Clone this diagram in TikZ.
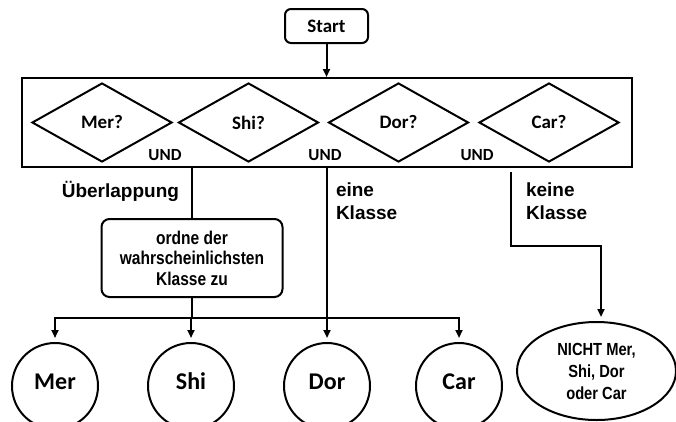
\documentclass[tikz,border=0pt]{standalone}
\usepackage{fontspec}
\newfontfamily\calfont{Carlito}
\newfontfamily\arialfont{Liberation Sans}
\newfontfamily\narrowfont{Liberation Sans}[FakeStretch=0.84]
\usetikzlibrary{shapes.geometric,arrows.meta}

\begin{document}
\begin{tikzpicture}[x=1pt,y=-1pt,
  line width=2pt,
  box/.style={draw, rounded corners=6pt, align=center, inner sep=0pt},
  test/.style={draw, diamond, minimum width=140pt, minimum height=79pt, inner sep=0pt,
    font=\calfont\bfseries\fontsize{19}{21}\selectfont},
  andlabel/.style={inner sep=0pt, font=\calfont\bfseries\fontsize{17}{19}\selectfont},
  branch/.style={inner sep=0pt, align=left, font=\arialfont\bfseries\fontsize{19}{23}\selectfont},
  cls/.style={draw, circle, minimum size=86pt, inner sep=0pt,
    font=\calfont\bfseries\fontsize{24}{26}\selectfont},
  arr/.style={-{Triangle[length=8pt,width=7pt]}, shorten >=4pt},
]
\useasboundingbox (0,0) rectangle (676,421);

% start and the panel of the four tests
\node[box, minimum width=83pt, minimum height=34pt,
  font=\calfont\bfseries\fontsize{19}{21}\selectfont] (start) at (326.5,26) {Start};
\node[draw, minimum width=610pt, minimum height=89pt, inner sep=0pt] (panel) at (327,122.5) {};
\draw[arr, shorten >=0pt] (start.south) -- (start.south |- panel.north);

\node[test] (qmer) at (102,122.5) {Mer?};
\node[test] (qshi) at (248.5,122.5) {Shi?};
\node[test] (qdor) at (398.5,122.5) {Dor?};
\node[test] (qcar) at (549,122.5) {Car?};

\node[andlabel] (und1) at (165,155) {UND};
\node[andlabel] (und2) at (325,155) {UND};
\node[andlabel] (und3) at (477,155) {UND};

% outcome labels
\node[branch, anchor=east] (overlap) at (180,191) {Überlappung};
\node[branch, anchor=west] (onecls) at (335,201.5) {eine\\Klasse};
\node[branch, anchor=west] (nocls) at (525,201.5) {keine\\Klasse};

% tie-breaking step
\node[box, rounded corners=8pt, minimum width=181pt, minimum height=78pt,
  font=\narrowfont\bfseries\fontsize{18.5}{20.5}\selectfont] (assign) at (192,258)
  {ordne der\\wahrscheinlichsten\\Klasse zu};

% classes
\node[cls] (mer) at (55,386) {\raisebox{9pt}{Mer}};
\node[cls] (shi) at (191,386) {\raisebox{9pt}{Shi}};
\node[cls] (dor) at (327,386) {\raisebox{9pt}{Dor}};
\node[cls] (car) at (459,386) {\raisebox{9pt}{Car}};
\node[draw, ellipse, minimum width=159pt, minimum height=98pt, inner sep=0pt, align=center,
  font=\narrowfont\bfseries\fontsize{17.5}{22}\selectfont] (none) at (596.5,371)
  {NICHT Mer,\\Shi, Dor\\oder Car};

% connectors
\draw (assign.north |- panel.south) -- (assign.north);
\coordinate (bus) at (192,318);
\draw (assign.south) -- (bus);
\draw[arr] (bus) -| (mer.north);
\draw[arr] (bus) -- (bus -| shi.north) -- (shi.north);
\draw[arr] (bus) -| (car.north);
\draw[arr] (dor.north |- panel.south) -- (dor.north);

\coordinate (k0) at (510.5,172);
\coordinate (kbend) at (601,246);
\draw[arr] (k0) |- (kbend) -- (kbend |- none.north);
\end{tikzpicture}
\end{document}
